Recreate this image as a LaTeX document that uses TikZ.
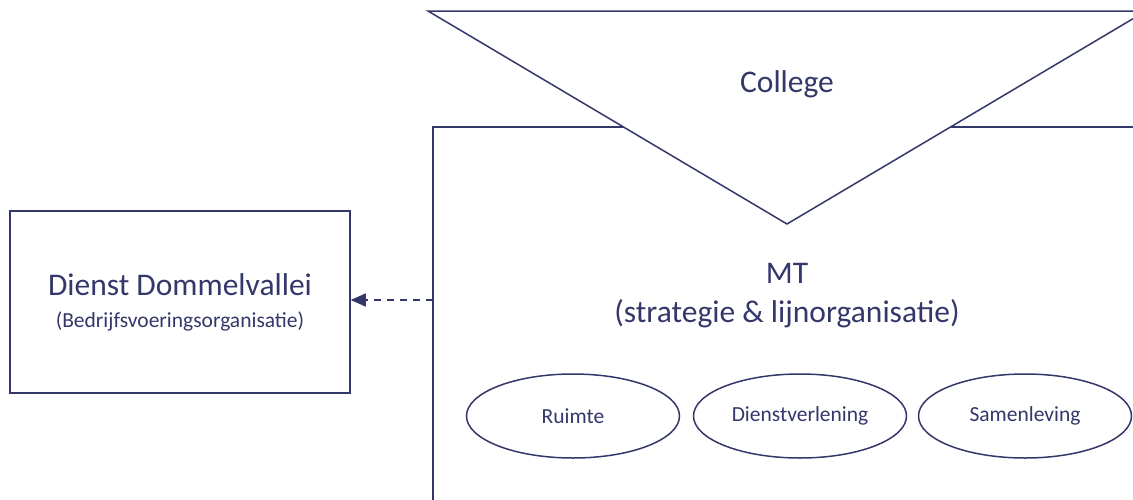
\documentclass[tikz,border=0pt]{standalone}
\usepackage{fontspec}
\setmainfont{Carlito}
\usetikzlibrary{arrows.meta,shapes.geometric}
\definecolor{navy}{RGB}{52,55,105}

\begin{document}
\begin{tikzpicture}[x=1pt, y=-1pt, line width=1.5pt, color=navy,
        big/.style={font=\fontsize{31.5}{39}\selectfont},
        small/.style={font=\fontsize{21.5}{26}\selectfont},
        unit/.style={ellipse, draw, minimum width=213pt, minimum height=84pt, inner sep=0pt, small}]
        \useasboundingbox (0,0) rectangle (1133,499);
        \draw (1150,127) -- (433,127) -- (433,510);
        \coordinate (tl) at (428,11);
        \coordinate (tr) at (1146,11);
        \coordinate (apex) at (787,224);
        \draw [fill=white] (tl) -- (tr) -- (apex) -- cycle;
        \node (college) at (787,84) [big] {College};
        \node (mt) at (787,296) [big, align=center] {MT\\(strategie \& lijnorganisatie)};
        \node (dienst) at (180,302) [draw, minimum width=340pt, minimum height=182pt,
            align=center, font=\fontsize{21.5}{32}\selectfont]
            {{\fontsize{31.5}{32}\selectfont Dienst Dommelvallei}\\(Bedrijfsvoeringsorganisatie)};
        \coordinate (mtleft) at (433,300);
        \draw [dash pattern=on 7pt off 6pt, -{Triangle[length=15pt, width=13pt]}]
            (mtleft) -- (mtleft -| dienst.east);
        \node (ruimte) at (573,416) [unit] {Ruimte};
        \node (dienstverlening) at (800,416) [unit] {Dienstverlening};
        \node (samenleving) at (1025,416) [unit] {Samenleving};
    \end{tikzpicture}
\end{document}
